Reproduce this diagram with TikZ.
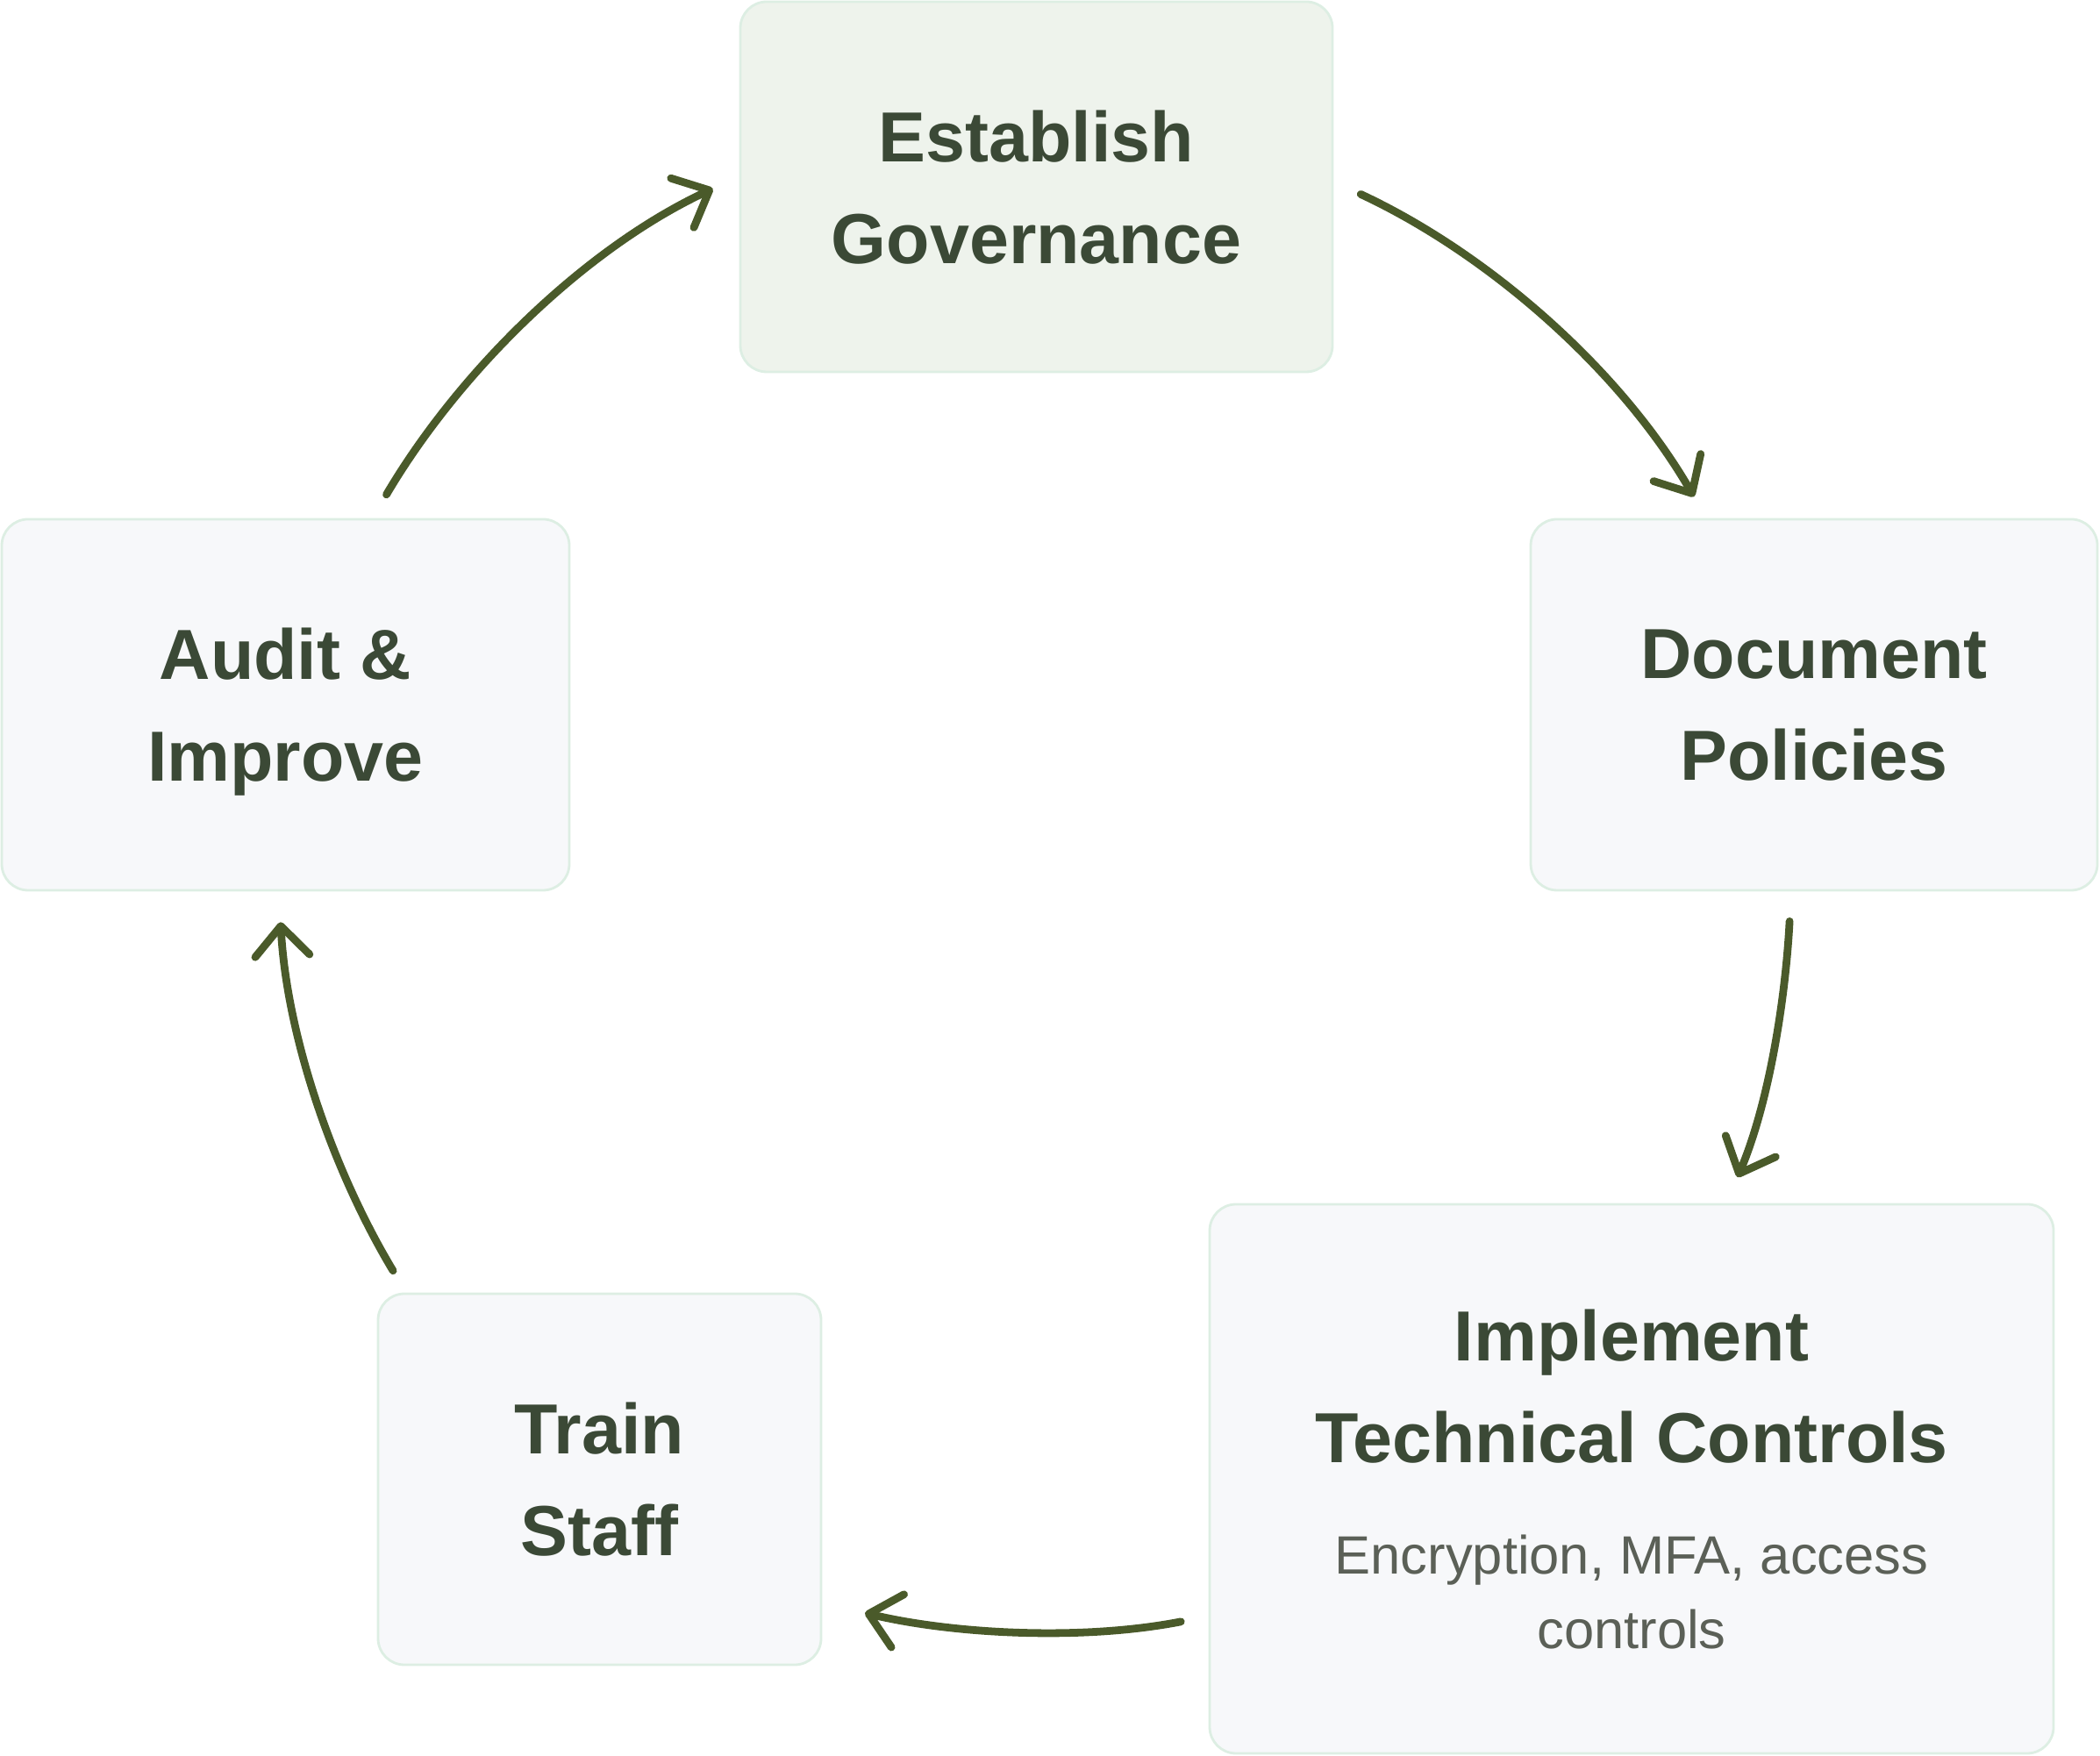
\documentclass[tikz,border=0pt]{standalone}
\usepackage{fontspec}
\setmainfont{Liberation Sans}
\usetikzlibrary{arrows.meta}
\definecolor{govfill}{HTML}{EEF3EC}
\definecolor{boxfill}{HTML}{F7F8FA}
\definecolor{boxline}{HTML}{DDEEE3}
\definecolor{titletext}{HTML}{3B4936}
\definecolor{subtext}{HTML}{5B6057}
\definecolor{arrowgreen}{HTML}{4A5A2A}

\begin{document}
\begin{tikzpicture}[
  stepbox/.style={rectangle, rounded corners=0.3cm, draw=boxline, line width=0.8pt, fill=boxfill, text=titletext, font=\fontsize{23}{33}\selectfont\bfseries, align=center, inner sep=0pt, text depth=0pt},
  flow/.style={arrowgreen, line width=2.5pt, line cap=round, -{Straight Barb[length=3.4mm, width=6.2mm, round]}, looseness=0.87}]
  \useasboundingbox (0,0) rectangle (23.94,20.01);

  \node[stepbox, fill=govfill, minimum width=6.75cm, minimum height=4.22cm] (gov) at (11.815,17.88) {Establish\\Governance};
  \node[stepbox, minimum width=6.46cm, minimum height=4.23cm] (doc) at (20.68,11.975) {Document\\Policies};
  \node[stepbox, minimum width=9.62cm, minimum height=6.26cm] (impl) at (18.60,3.15) {Implement\\Technical Controls\\[3pt]{\fontsize{17.5}{23}\selectfont\mdseries\color{subtext}Encryption, MFA, access}\\[-8.8pt]{\fontsize{17.5}{23}\selectfont\mdseries\color{subtext}controls}};
  \node[stepbox, minimum width=5.05cm, minimum height=4.23cm] (train) at (6.835,3.145) {Train\\Staff};
  \node[stepbox, minimum width=6.47cm, minimum height=4.23cm] (audit) at (3.255,11.975) {Audit \&\\Improve};

  \draw[flow, shorten <=0.34cm, shorten >=0.28cm] (gov.1.5) to[out=-25, in=120] (doc.120);
  \draw[flow, shorten <=0.34cm, shorten >=0.32cm] (doc.-97) to[out=-93, in=67] (impl.71.5);
  \draw[flow, shorten <=0.32cm, shorten >=0.50cm] (impl.198) to[out=-169, in=-13.5] (train.-29);
  \draw[flow, shorten <=0.29cm, shorten >=0.35cm] (train.136) to[out=121, in=-87] (audit.-92);
  \draw[flow, shorten <=0.31cm, shorten >=0.33cm] (audit.65.5) to[out=59.5, in=205] (gov.178.5);
\end{tikzpicture}
\end{document}
